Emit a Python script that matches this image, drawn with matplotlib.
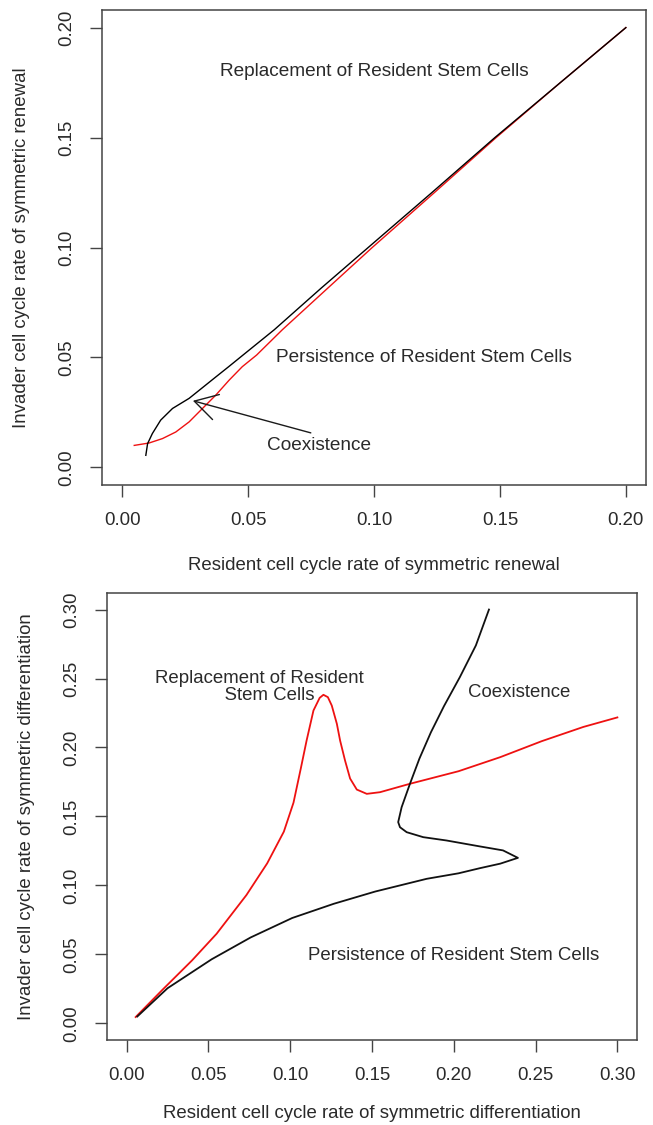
import matplotlib
matplotlib.use("Agg")
import matplotlib.pyplot as plt

plt.rcParams['font.family'] = ['Liberation Sans', 'DejaVu Sans']

# top panel: symmetric renewal
renew_black_x = [0.0094, 0.0101, 0.0120, 0.0153, 0.0200, 0.0266, 0.0315, 0.0365, 0.0423,
                 0.0480, 0.0604, 0.0790, 0.0977, 0.1230, 0.1480, 0.1740, 0.2000]
renew_black_y = [0.0055, 0.0108, 0.0154, 0.0215, 0.0268, 0.0314, 0.0359, 0.0405, 0.0458,
                 0.0511, 0.0626, 0.0815, 0.1000, 0.1250, 0.1500, 0.1750, 0.2000]
renew_red_x = [0.0048, 0.0107, 0.0160, 0.0213, 0.0266, 0.0319, 0.0372, 0.0425, 0.0477,
               0.0534, 0.0636, 0.0800, 0.0993, 0.1240, 0.1485, 0.1740, 0.2000]
renew_red_y = [0.0100, 0.0111, 0.0131, 0.0161, 0.0207, 0.0268, 0.0329, 0.0397, 0.0458,
               0.0511, 0.0626, 0.0798, 0.1000, 0.1250, 0.1500, 0.1750, 0.2000]

# bottom panel: symmetric differentiation
diff_black_x = [0.0065, 0.0250, 0.0520, 0.0758, 0.1012, 0.1266, 0.1520, 0.1834, 0.2029,
                0.2159, 0.2284, 0.2392, 0.2301, 0.2159, 0.1955, 0.1813, 0.1712, 0.1671,
                0.1660, 0.1681, 0.1732, 0.1790, 0.1860, 0.1940, 0.2037, 0.2135, 0.2215]
diff_black_y = [0.0050, 0.0255, 0.0465, 0.0623, 0.0764, 0.0867, 0.0956, 0.1048, 0.1088,
                0.1125, 0.1158, 0.1200, 0.1254, 0.1283, 0.1326, 0.1350, 0.1386, 0.1422,
                0.1459, 0.1567, 0.1737, 0.1920, 0.2110, 0.2300, 0.2510, 0.2740, 0.3000]
diff_red_x = [0.0055, 0.0220, 0.0400, 0.0550, 0.0732, 0.0859, 0.0961, 0.1020, 0.1065,
              0.1100, 0.1142, 0.1180, 0.1203, 0.1230, 0.1254, 0.1285, 0.1305, 0.1335,
              0.1366, 0.1407, 0.1468, 0.1549, 0.1732, 0.2029, 0.2284, 0.2538, 0.2792, 0.3000]
diff_red_y = [0.0046, 0.0245, 0.0457, 0.0650, 0.0930, 0.1160, 0.1390, 0.1600, 0.1850,
              0.2050, 0.2268, 0.2360, 0.2382, 0.2365, 0.2304, 0.2172, 0.2050, 0.1906,
              0.1775, 0.1695, 0.1664, 0.1676, 0.1737, 0.1828, 0.1930, 0.2046, 0.2149, 0.2218]

renew_ticks = [0.00, 0.05, 0.10, 0.15, 0.20]
diff_ticks = [0.00, 0.05, 0.10, 0.15, 0.20, 0.25, 0.30]

TXT = '#2a2a2a'
FS = 13.4


def style_axes(ax, ticks, lims):
    ax.set_xlim(lims)
    ax.set_ylim(lims)
    ax.set_xticks(ticks)
    ax.set_yticks(ticks)
    ax.set_xticklabels(['%.2f' % t for t in ticks])
    ax.set_yticklabels(['%.2f' % t for t in ticks], rotation=90, va='center')
    ax.tick_params(direction='out', length=8.5, width=1.0, color='#444444',
                   labelsize=FS, labelcolor=TXT, pad=11)
    for s in ax.spines.values():
        s.set_color('#444444')
        s.set_linewidth(1.1)


fig = plt.figure(figsize=(6.53, 11.25), dpi=100)

ax1 = fig.add_axes([0.1562, 0.5689, 0.8331, 0.4222])
ax1.plot(renew_red_x, renew_red_y, color='#ee1111', lw=1.0)
ax1.plot(renew_black_x, renew_black_y, color='black', lw=1.0)
style_axes(ax1, renew_ticks, (-0.008, 0.208))
ax1.text(0.10, 0.18, 'Replacement of Resident Stem Cells', ha='center', va='center',
         fontsize=FS + 0.3, color=TXT)
ax1.text(0.12, 0.05, 'Persistence of Resident Stem Cells', ha='center', va='center',
         fontsize=FS + 0.3, color=TXT)
ax1.text(0.078, 0.0101, 'Coexistence', ha='center', va='center', fontsize=FS + 0.3,
         color=TXT)
ax1.annotate('', xy=(0.0281, 0.0303), xytext=(0.0749, 0.0157),
             arrowprops=dict(arrowstyle='->, head_length=1.62, head_width=0.935',
                             mutation_scale=10, color='#1a1a1a', lw=1.0,
                             shrinkA=0, shrinkB=0))
ax1.set_xlabel('Resident cell cycle rate of symmetric renewal', fontsize=FS, color=TXT,
               labelpad=20)
ax1.set_ylabel('Invader cell cycle rate of symmetric renewal', fontsize=FS, color=TXT,
               labelpad=20)

ax2 = fig.add_axes([0.1639, 0.0756, 0.8116, 0.3973])
ax2.plot(diff_red_x, diff_red_y, color='#ee1111', lw=1.3)
ax2.plot(diff_black_x, diff_black_y, color='#111111', lw=1.3)
style_axes(ax2, diff_ticks, (-0.012, 0.312))
ax2.text(0.081, 0.2437, 'Replacement of Resident\n    Stem Cells', ha='center', va='center',
         fontsize=FS, color=TXT, linespacing=1.0)
ax2.text(0.24, 0.24, 'Coexistence', ha='center', va='center', fontsize=FS, color=TXT)
ax2.text(0.20, 0.0495, 'Persistence of Resident Stem Cells', ha='center', va='center',
         fontsize=FS, color=TXT)
ax2.set_xlabel('Resident cell cycle rate of symmetric differentiation', fontsize=FS,
               color=TXT, labelpad=15)
ax2.set_ylabel('Invader cell cycle rate of symmetric differentiation', fontsize=FS,
               color=TXT, labelpad=20)

fig.savefig('out.png', dpi=100)
